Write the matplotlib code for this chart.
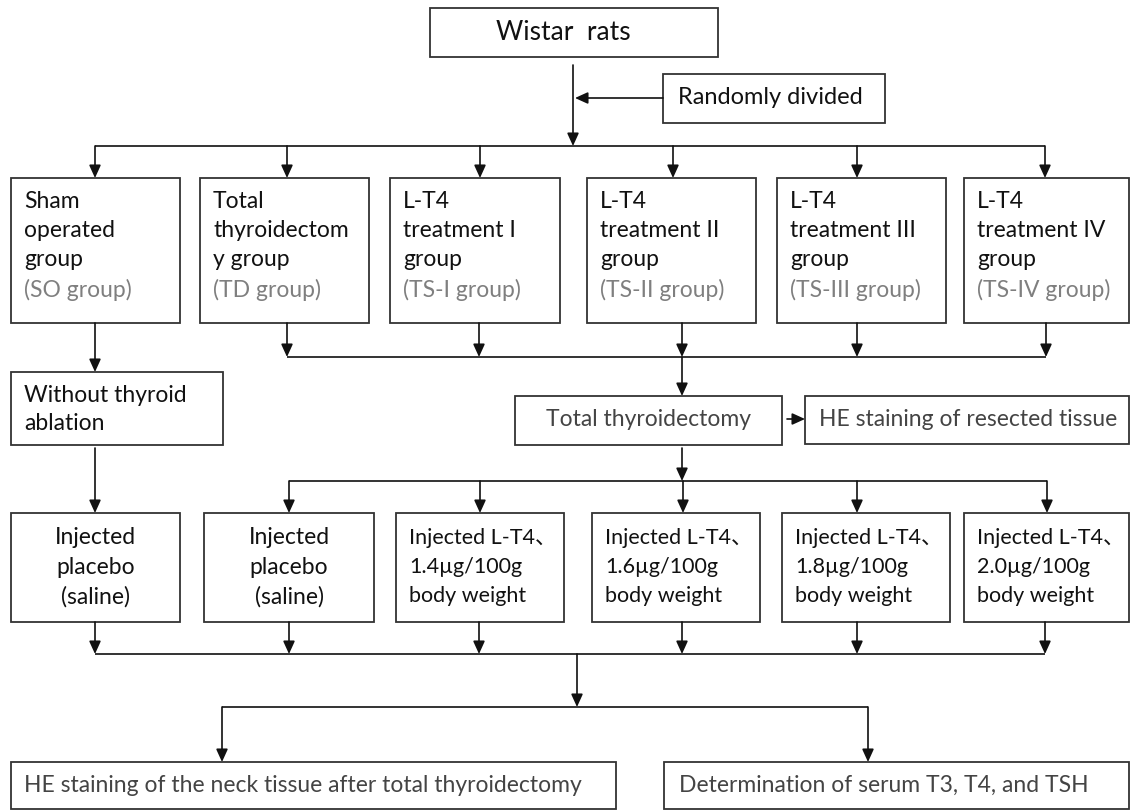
import matplotlib
matplotlib.use("Agg")
import matplotlib.pyplot as plt
from matplotlib.patches import Rectangle

plt.rcParams['font.family'] = ['Lato', 'Noto Sans CJK SC', 'DejaVu Sans']

# texts of the flowchart
top_label = "Wistar  rats"
divide_label = "Randomly divided"
group_names = [["Sham", "operated", "group"],
               ["Total", "thyroidectom", "y group"],
               ["L-T4", "treatment I", "group"],
               ["L-T4", "treatment II", "group"],
               ["L-T4", "treatment III", "group"],
               ["L-T4", "treatment IV", "group"]]
group_abbr = ["(SO group)", "(TD group)", "(TS-I group)",
              "(TS-II group)", "(TS-III group)", "(TS-IV group)"]
without_label = ["Without thyroid", "ablation"]
surgery_label = "Total thyroidectomy"
resected_label = "HE staining of resected tissue"
placebo_lines = ["Injected", "placebo", "(saline)"]
doses = ["1.4", "1.6", "1.8", "2.0"]
final_labels = ["HE staining of the neck tissue after total thyroidectomy",
                "Determination of serum T3, T4, and TSH"]

# layout (pixels)
row1_x = [(11, 180), (200, 369), (390, 560), (587, 756), (777, 946), (964, 1129)]
row1_in = [95, 287, 480, 673, 857, 1045]
row1_out = [95, 287, 479, 682, 857, 1046]
row3_x = [(11, 180), (204, 374), (396, 564), (592, 760), (782, 950), (964, 1129)]
row3_in = [95, 289, 480, 683, 857, 1047]
row3_out = [95, 289, 479, 682, 857, 1045]

W, H = 1131, 811
fig = plt.figure(figsize=(W / 100, H / 100), dpi=100)
ax = fig.add_axes([0, 0, 1, 1])
ax.set_xlim(0, W)
ax.set_ylim(H, 0)
ax.axis('off')

EC = '#333333'
LC = '#111111'
GRAY = '#7f7f7f'
DARK = '#444444'
FS = 16.5


def box(x0, x1, y0, y1):
    ax.add_patch(Rectangle((x0, y0), x1 - x0, y1 - y0, fill=False,
                           ec=EC, lw=1.3))


def line(xs, ys):
    ax.plot(xs, ys, color=LC, lw=1.2, solid_capstyle='butt')


def arrow(x0, y0, x1, y1):
    ax.annotate('', xy=(x1, y1), xytext=(x0, y0),
                arrowprops=dict(arrowstyle='-|>,head_length=0.55,head_width=0.25',
                                mutation_scale=14, color=LC, lw=1.2,
                                shrinkA=0, shrinkB=0))


# top
box(430, 718, 8, 57)
ax.text(563, 33, top_label, ha='center', va='center', fontsize=19, color='#111')
arrow(573, 65, 573, 146)
box(663, 885, 74, 123)
ax.text(678, 98, divide_label, ha='left', va='center', fontsize=17, color='#111')
arrow(663, 98, 575, 98)

# split to six groups
line([row1_in[0], row1_in[-1]], [146, 146])
for x in row1_in:
    arrow(x, 146, x, 178)

for i, (x0, x1) in enumerate(row1_x):
    box(x0, x1, 178, 323)
    for j, t in enumerate(group_names[i]):
        ax.text(x0 + 13, 201 + 29.5 * j, t, ha='left', va='center',
                fontsize=FS, color='#111')
    ax.text(x0 + 13, 290, group_abbr[i], ha='left', va='center',
            fontsize=FS, color=GRAY)

# sham branch
arrow(95, 323, 95, 372)
box(11, 223, 372, 445)
for j, t in enumerate(without_label):
    ax.text(24, 395 + 29 * j, t, ha='left', va='center', fontsize=FS, color='#111')
arrow(95, 448, 95, 513)

# merge the surgery groups
line([row1_out[1], row1_out[-1]], [357, 357])
for x in row1_out[1:]:
    arrow(x, 323, x, 357)
arrow(682, 357, 682, 396)
box(515, 782, 396, 445)
ax.text(648, 420, surgery_label, ha='center', va='center', fontsize=FS, color=DARK)
arrow(787, 419, 805, 419)
box(805, 1129, 396, 444)
ax.text(819, 420, resected_label, ha='left', va='center', fontsize=FS, color=DARK)

# split to treatments
arrow(682, 448, 682, 481)
line([row3_in[1], row3_in[-1]], [481, 481])
for x in row3_in[1:]:
    arrow(x, 481, x, 513)

for i, (x0, x1) in enumerate(row3_x):
    box(x0, x1, 513, 622)
    if i < 2:
        for j, t in enumerate(placebo_lines):
            ax.text((x0 + x1) / 2, 538 + 29.5 * j, t, ha='center', va='center',
                    fontsize=FS, color='#111')
    else:
        lines = ["Injected L-T4\u3001", doses[i - 2] + "\u00b5g/100g", "body weight"]
        for j, t in enumerate(lines):
            ax.text(x0 + 13, 538 + 29 * j, t, ha='left', va='center',
                    fontsize=15.5, color='#111')

# merge all
for x in row3_out:
    arrow(x, 622, x, 654)
line([row3_out[0], row3_out[-1]], [654, 654])
arrow(577, 654, 577, 707)
line([222, 868], [707, 707])
arrow(222, 707, 222, 762)
arrow(868, 707, 868, 762)

box(11, 616, 762, 809)
box(664, 1129, 762, 809)
ax.text(24, 785, final_labels[0], ha='left', va='center', fontsize=FS, color=DARK)
ax.text(679, 785, final_labels[1], ha='left', va='center', fontsize=FS, color=DARK)

fig.savefig('out.png', dpi=100, facecolor='white')
